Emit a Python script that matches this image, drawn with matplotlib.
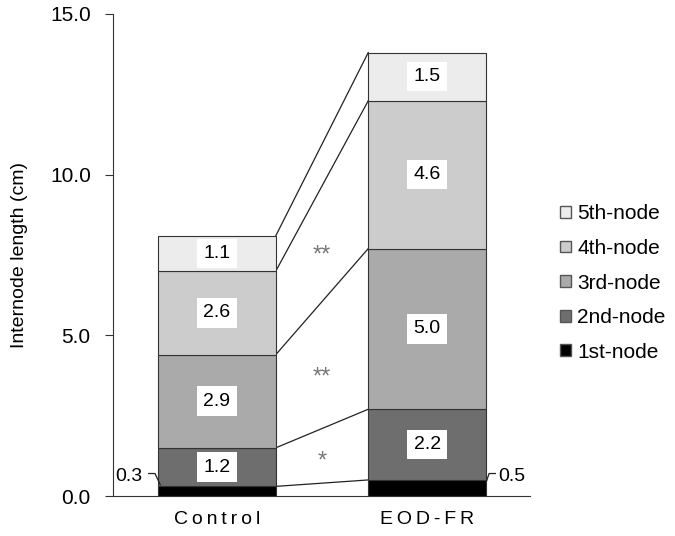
import numpy as np
import matplotlib
matplotlib.use('Agg')
import matplotlib.pyplot as plt
from matplotlib.patches import Patch

plt.rcParams['font.family'] = ['Liberation Sans', 'DejaVu Sans']

# Data
groups = ['Control', 'EOD-FR']
nodes = ['1st-node', '2nd-node', '3rd-node', '4th-node', '5th-node']
control = [0.3, 1.2, 2.9, 2.6, 1.1]
eod_fr = [0.5, 2.2, 5.0, 4.6, 1.5]
signif = ['*', '**', '**']
signif_y = [1.07, 3.68, 7.48]
colors = ['#000000', '#6e6e6e', '#aaaaaa', '#cccccc', '#ececec']

values = np.array([control, eod_fr])
x = np.array([0, 1])
width = 0.56

fig = plt.figure(figsize=(6.75, 5.36), dpi=100)
ax = fig.add_axes([0.1674, 0.0746, 0.6178, 0.8993])

bottoms = np.zeros(2)
for i, node in enumerate(nodes):
    ax.bar(x, values[:, i], width, bottom=bottoms, color=colors[i],
           edgecolor='#333333', linewidth=0.8, label=node, zorder=2)
    for j in range(2):
        v = values[j, i]
        if i == 0:
            continue
        ax.text(x[j], bottoms[j] + v / 2, f'{v:.1f}', ha='center', va='center',
                fontsize=14,
                bbox=dict(facecolor='white', edgecolor='none', pad=4.5), zorder=3)
    bottoms = bottoms + values[:, i]

# connecting lines between segment tops
tops = np.cumsum(values, axis=1)
for i in range(len(nodes)):
    ax.plot([x[0] + width / 2, x[1] - width / 2], [tops[0, i], tops[1, i]],
            color='#222222', linewidth=0.9, zorder=1)

for s, yy in zip(signif, signif_y):
    ax.text(0.5, yy, s, ha='center', va='center', fontsize=17, color='#777777')

# small outside labels for 1st-node
ly = 0.7
ax.plot([x[0] - width / 2 - 0.045, x[0] - width / 2 - 0.015, x[0] - width / 2 + 0.01],
        [ly, ly, 0.35], color='#222222', linewidth=0.9, clip_on=False, zorder=3)
ax.text(x[0] - width / 2 - 0.075, ly - 0.08, f'{control[0]:.1f}', ha='right',
        va='center', fontsize=14)
ax.plot([x[1] + width / 2 + 0.045, x[1] + width / 2 + 0.015, x[1] + width / 2],
        [ly, ly, 0.4], color='#222222', linewidth=0.9, clip_on=False, zorder=3)
ax.text(x[1] + width / 2 + 0.06, ly - 0.08, f'{eod_fr[0]:.1f}', ha='left',
        va='center', fontsize=14)

ax.set_xlim(-0.495, 1.49)
ax.set_ylim(0, 15)
ax.set_yticks([0, 5, 10, 15])
ax.set_yticklabels(['0.0', '5.0', '10.0', '15.0'], fontsize=15)
ax.set_xticks(x)
ax.set_xticklabels(['\u2009'.join(g) for g in groups], fontsize=14)
ax.tick_params(axis='x', length=0, pad=11)
ax.tick_params(axis='y', length=6, direction='out', color='#333333', pad=10)
ax.set_ylabel('Internode length (cm)', fontsize=14, labelpad=16)
ax.spines['top'].set_visible(False)
ax.spines['right'].set_visible(False)
for sp in ['left', 'bottom']:
    ax.spines[sp].set_color('#333333')

handles = [Patch(facecolor=colors[i], edgecolor='#555555', label=nodes[i])
           for i in range(len(nodes))][::-1]
fig.legend(handles=handles, loc='center left', bbox_to_anchor=(0.802, 0.472),
           frameon=False, fontsize=15, handlelength=0.5, handleheight=0.5,
           handletextpad=0.33, labelspacing=0.75)

fig.savefig('out.png', dpi=100)
